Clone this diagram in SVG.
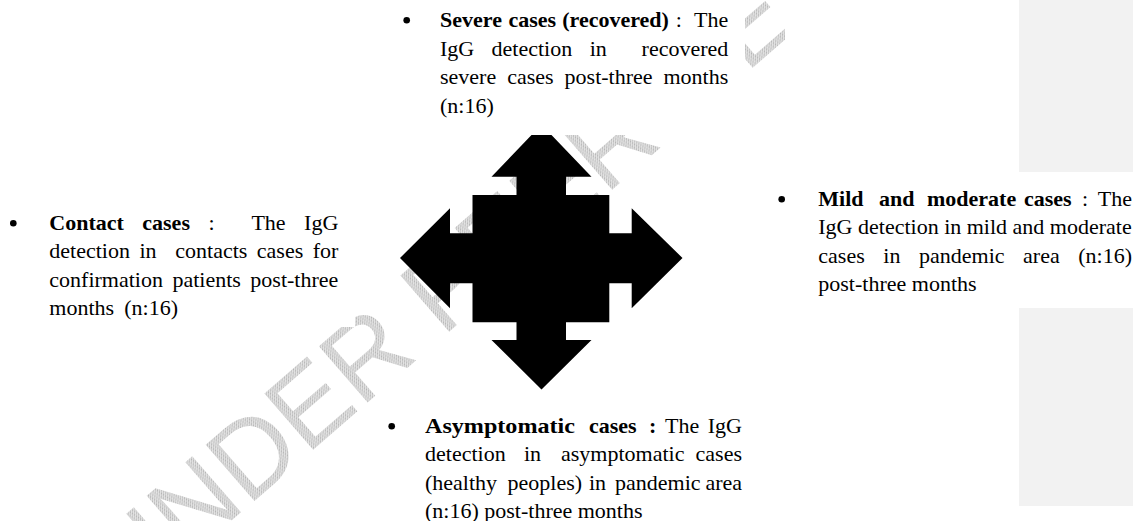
<svg xmlns="http://www.w3.org/2000/svg" width="1133" height="521" viewBox="0 0 1133 521">
<defs>
<pattern id="hatch" patternUnits="userSpaceOnUse" width="3" height="3">
<rect width="3" height="3" fill="#e4e4e4"/>
<path d="M0 3 L3 0" stroke="#b4b4b4" stroke-width="1"/>
</pattern>
<style>
.t{font-family:"Liberation Serif","Times New Roman",serif;font-size:22px;fill:#000}
.b{font-weight:bold}
.e{text-anchor:end}
.wm{font-family:"Liberation Sans",Arial,sans-serif;font-size:108px;fill:url(#hatch)}
.bul{fill:#000}
.panel{fill:#f2f2f2}
.box{fill:#fff}
</style>
</defs>
<rect width="1133" height="521" fill="#fff"/>
<g id="watermark">
<text class="wm" transform="translate(130,609) rotate(-41)">UNDER PEER REVIEW</text>
</g>
<g id="panels">
<rect class="panel" x="1019" y="0" width="114" height="172"/>
<rect class="panel" x="1019" y="308" width="114" height="198"/>
</g>
<g id="connectors">
<path d="M531.5 135 L551.5 135 L591.5 176.7 L566 176.7 L566 195 L609.3 195 L609.3 233.3 L631.7 233.3 L631.7 208.3 L682.5 258 L631.7 308.3 L631.7 283.3 L609.3 283.3 L609.3 322.3 L566 322.3 L566 340 L591.5 340 L541.5 389.5 L491.5 340 L516.5 340 L516.5 322.3 L472.5 322.3 L472.5 283.3 L450 283.3 L450 308.3 L400 258 L450 208.3 L450 233.3 L472.5 233.3 L472.5 195 L516.5 195 L516.5 176.7 L491.5 176.7 Z" fill="#000"/>
</g>
<g id="node-severe">
<rect class="box" x="390" y="0" width="355" height="135"/>
<circle class="bul" cx="406.7" cy="20.3" r="3.3"/>
<text class="t"><tspan class="b" x="440" y="27.3">Severe</tspan><tspan class="b" x="508.4" y="27.3">cases</tspan><tspan class="b" x="562.2" y="27.3">(recovered)</tspan><tspan x="675.8" y="27.3">:</tspan></text>
<text class="t e" x="728.3" y="27.3">The</text>
<text class="t"><tspan x="440" y="55.7">IgG</tspan><tspan x="491.6" y="55.7">detection</tspan><tspan x="589.7" y="55.7">in</tspan></text>
<text class="t e" x="728.3" y="55.7">recovered</text>
<text class="t"><tspan x="440" y="84.1">severe</tspan><tspan x="507.2" y="84.1">cases</tspan><tspan x="564.6" y="84.1">post-three</tspan></text>
<text class="t e" x="728.3" y="84.1">months</text>
<text class="t" x="440" y="112.5">(n:16)</text>
</g>
<g id="node-contact">
<rect class="box" x="0" y="195" width="355" height="132"/>
<circle class="bul" cx="13.3" cy="223.3" r="3.3"/>
<text class="t"><tspan class="b" x="49.3" y="230">Contact</tspan><tspan class="b" x="142.3" y="230">cases</tspan><tspan x="208.4" y="230">:</tspan><tspan x="251.4" y="230">The</tspan></text>
<text class="t e" x="338.3" y="230">IgG</text>
<text class="t"><tspan x="49.3" y="258.3">detection</tspan><tspan x="139.4" y="258.3">in</tspan><tspan x="175.3" y="258.3">contacts</tspan><tspan x="256.8" y="258.3">cases</tspan></text>
<text class="t e" x="338.3" y="258.3">for</text>
<text class="t"><tspan x="49.3" y="286.6">confirmation</tspan><tspan x="172.4" y="286.6">patients</tspan></text>
<text class="t e" x="338.3" y="286.6">post-three</text>
<text class="t"><tspan x="49.3" y="314.9">months</tspan><tspan x="124.3" y="314.9">(n:16)</tspan></text>
</g>
<g id="node-mild">
<rect class="box" x="785" y="0" width="234" height="300"/>
<circle class="bul" cx="781.7" cy="199.3" r="3.3"/>
<text class="t"><tspan class="b" x="818.3" y="205.7">Mild</tspan><tspan class="b" x="879" y="205.7">and</tspan><tspan class="b" x="927" y="205.7">moderate</tspan><tspan class="b" x="1024" y="205.7">cases</tspan><tspan x="1082" y="205.7">:</tspan></text>
<text class="t e" x="1132" y="205.7">The</text>
<text class="t" x="818.3" y="234.1">IgG detection in mild and moderate</text>
<text class="t"><tspan x="818.3" y="262.5">cases</tspan><tspan x="883.3" y="262.5">in</tspan><tspan x="919" y="262.5">pandemic</tspan><tspan x="1023.1" y="262.5">area</tspan></text>
<text class="t e" x="1132" y="262.5">(n:16)</text>
<text class="t" x="818.3" y="290.9">post-three months</text>
</g>
<g id="node-asymptomatic">
<rect class="box" x="380" y="400" width="370" height="121"/>
<circle class="bul" cx="391.7" cy="426.3" r="3.3"/>
<text class="t b" x="425" y="432.8" textLength="150" lengthAdjust="spacingAndGlyphs">Asymptomatic</text>
<text class="t"><tspan class="b" x="589" y="432.8">cases</tspan><tspan class="b" x="649" y="432.8">:</tspan><tspan x="665" y="432.8">The</tspan></text>
<text class="t e" x="742" y="432.8">IgG</text>
<text class="t"><tspan x="425" y="461.2">detection</tspan><tspan x="524" y="461.2">in</tspan><tspan x="561" y="461.2">asymptomatic</tspan></text>
<text class="t e" x="742" y="461.2">cases</text>
<text class="t"><tspan x="425" y="489.6">(healthy</tspan><tspan x="507.5" y="489.6">peoples)</tspan><tspan x="589" y="489.6">in</tspan><tspan x="615" y="489.6">pandemic</tspan></text>
<text class="t e" x="742" y="489.6">area</text>
<text class="t" x="425" y="518">(n:16) post-three months</text>
</g>
</svg>
